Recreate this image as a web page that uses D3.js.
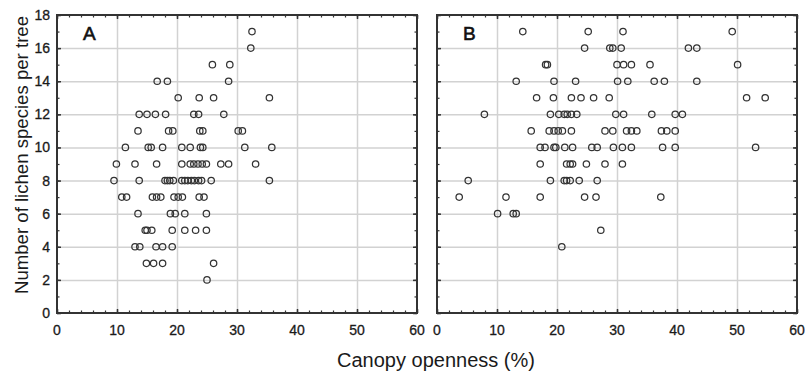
<!DOCTYPE html>
<html>
<head>
<meta charset="utf-8">
<script src="https://cdn.jsdelivr.net/npm/d3@7"></script>
<style>
  html, body { margin: 0; padding: 0; background: #fff; }
  svg { display: block; font-family: "Liberation Sans", Arial, sans-serif; }
</style>
</head>
<body>
<div id="lichen_chart"></div>
<script>
// panel A: canopy openness (%) and number of lichen species per tree
const opennessA = [
  32.5, 32.3,
  25.9, 28.8,
  16.7, 18.4, 28.6,
  20.2, 23.7, 26.1, 35.4,
  13.7, 15.0, 16.4, 18.1, 22.8, 23.6, 27.8,
  13.5, 18.6, 19.3, 23.8, 24.3, 30.2, 30.9,
  11.4, 15.2, 15.7, 17.6, 20.8, 22.2, 23.9, 24.3, 31.3, 35.8,
  9.9, 13.0, 16.6, 20.8, 22.2, 22.8, 23.5, 24.2, 24.9, 27.3, 28.6, 33.1,
  9.5, 13.7, 18.0, 18.4, 18.8, 19.4, 20.8, 21.3, 21.8, 22.4, 22.9, 23.6, 24.1, 25.7, 35.4,
  10.8, 11.6, 15.9, 16.6, 17.3, 19.5, 20.2, 20.9, 23.7, 24.5,
  13.5, 18.9, 19.7, 21.3, 24.9,
  14.7, 15.0, 15.8, 19.2, 21.3, 23.1, 24.9,
  13.0, 13.8, 16.5, 17.6, 19.2,
  14.9, 16.1, 17.6, 26.1,
  25.0
];
const speciesA = [
  17, 16,
  15, 15,
  14, 14, 14,
  13, 13, 13, 13,
  12, 12, 12, 12, 12, 12, 12,
  11, 11, 11, 11, 11, 11, 11,
  10, 10, 10, 10, 10, 10, 10, 10, 10, 10,
  9, 9, 9, 9, 9, 9, 9, 9, 9, 9, 9, 9,
  8, 8, 8, 8, 8, 8, 8, 8, 8, 8, 8, 8, 8, 8, 8,
  7, 7, 7, 7, 7, 7, 7, 7, 7, 7,
  6, 6, 6, 6, 6,
  5, 5, 5, 5, 5, 5, 5,
  4, 4, 4, 4, 4,
  3, 3, 3, 3,
  2
];

// panel B
const opennessB = [
  14.3, 25.2, 31.0, 49.2,
  24.6, 28.8, 29.3, 30.7, 41.9, 43.3,
  18.1, 18.4, 30.0, 31.1, 32.4, 35.5, 50.1,
  13.2, 19.5, 23.1, 30.1, 31.8, 36.2, 37.9, 43.3,
  16.6, 19.4, 22.4, 24.0, 26.1, 28.7, 51.6, 54.7,
  7.9, 18.9, 20.3, 21.2, 21.7, 22.4, 23.3, 29.8, 31.1, 35.8, 39.7, 40.9,
  15.7, 18.7, 19.5, 20.2, 20.9, 22.4, 28.0, 29.3, 31.6, 32.4, 33.3, 37.4, 38.3, 39.7,
  17.2, 18.0, 19.5, 19.8, 21.3, 22.6, 25.8, 26.7, 29.4, 30.9, 32.4, 37.6, 39.7, 53.1,
  17.2, 21.6, 22.2, 22.6, 24.9, 28.0, 30.9,
  5.2, 18.9, 21.2, 21.6, 22.2, 23.7, 26.7,
  3.7, 11.5, 17.2, 24.6, 26.5, 37.3,
  10.1, 12.7, 13.2,
  27.3,
  20.8
];
const speciesB = [
  17, 17, 17, 17,
  16, 16, 16, 16, 16, 16,
  15, 15, 15, 15, 15, 15, 15,
  14, 14, 14, 14, 14, 14, 14, 14,
  13, 13, 13, 13, 13, 13, 13, 13,
  12, 12, 12, 12, 12, 12, 12, 12, 12, 12, 12, 12,
  11, 11, 11, 11, 11, 11, 11, 11, 11, 11, 11, 11, 11, 11,
  10, 10, 10, 10, 10, 10, 10, 10, 10, 10, 10, 10, 10, 10,
  9, 9, 9, 9, 9, 9, 9,
  8, 8, 8, 8, 8, 8, 8,
  7, 7, 7, 7, 7, 7,
  6, 6, 6,
  5,
  4
];

const xTicks = [0, 10, 20, 30, 40, 50, 60];
const yTicks = [0, 2, 4, 6, 8, 10, 12, 14, 16, 18];
const panelLabels = ['A', 'B'];

const width = 806, height = 371;
const plotTop = 15, plotBottom = 313;
const panels = [
  { left: 57, right: 417, x: opennessA, y: speciesA, label: panelLabels[0] },
  { left: 437, right: 797, x: opennessB, y: speciesB, label: panelLabels[1] },
];

const svg = d3.select('#lichen_chart')
  .append('svg')
  .attr('width', width)
  .attr('height', height);

const yScale = d3.scaleLinear().domain([0, 18]).range([plotBottom, plotTop]);

panels.forEach((p, i) => {
  const xScale = d3.scaleLinear().domain([0, 60]).range([p.left, p.right]);
  const w = p.right - p.left, h = plotBottom - plotTop;
  const g = svg.append('g');

  //gridlines first so they sit under everything
  g.append('g')
    .attr('class', 'grid')
    .attr('transform', `translate(0,${plotBottom})`)
    .call(d3.axisBottom(xScale).tickValues(xTicks.slice(1, -1)).tickSize(-h).tickFormat(''))
    .call(s => s.select('.domain').remove());
  g.append('g')
    .attr('class', 'grid')
    .attr('transform', `translate(${p.left},0)`)
    .call(d3.axisLeft(yScale).tickValues(yTicks.slice(1, -1)).tickSize(-w).tickFormat(''))
    .call(s => s.select('.domain').remove());
  g.selectAll('.grid line')
    .attr('stroke', '#d2d2d2')
    .attr('stroke-width', 1.5);

  // inward ticks on all four sides, minor then major
  const minorX = d3.range(0, 61, 2), minorY = d3.range(0, 19, 1);
  const tickAxes = [
    [d3.axisBottom(xScale), `translate(0,${plotBottom})`, minorX, xTicks],
    [d3.axisTop(xScale), `translate(0,${plotTop})`, minorX, xTicks],
    [d3.axisLeft(yScale), `translate(${p.left},0)`, minorY, yTicks],
    [d3.axisRight(yScale), `translate(${p.right},0)`, minorY, yTicks],
  ];
  tickAxes.forEach(([ax, tr, minor, major]) => {
    g.append('g')
      .attr('transform', tr)
      .call(ax.tickValues(minor).tickSize(-2.5).tickFormat(''))
      .call(s => s.select('.domain').remove())
      .selectAll('line').attr('stroke', '#333').attr('stroke-width', 1.2);
    g.append('g')
      .attr('transform', tr)
      .call(ax.tickValues(major).tickSize(-4).tickFormat(''))
      .call(s => s.select('.domain').remove())
      .selectAll('line').attr('stroke', '#333').attr('stroke-width', 1.5);
  });

  // frame
  g.append('rect')
    .attr('x', p.left)
    .attr('y', plotTop)
    .attr('width', w)
    .attr('height', h)
    .attr('fill', 'none')
    .attr('stroke', '#333')
    .attr('stroke-width', 2);

  // x tick labels
  g.append('g')
    .selectAll('text')
    .data(xTicks)
    .join('text')
    .attr('x', d => xScale(d))
    .attr('y', 335)
    .attr('text-anchor', 'middle')
    .attr('font-size', 14)
    .attr('fill', '#1a1a1a')
    .attr('stroke', '#1a1a1a')
    .attr('stroke-width', 0.3)
    .text(d => d);

  if (i === 0) {
    g.append('g')
      .selectAll('text')
      .data(yTicks)
      .join('text')
      .attr('x', 50)
      .attr('y', d => yScale(d) + 5)
      .attr('text-anchor', 'end')
      .attr('font-size', 14)
      .attr('fill', '#1a1a1a')
      .attr('stroke', '#1a1a1a')
      .attr('stroke-width', 0.3)
      .text(d => d);
  }

  // points
  g.append('g')
    .selectAll('circle')
    .data(d3.range(p.x.length))
    .join('circle')
    .attr('cx', k => xScale(p.x[k]))
    .attr('cy', k => yScale(p.y[k]))
    .attr('r', 3.2)
    .attr('fill', 'none')
    .attr('stroke', '#333')
    .attr('stroke-width', 1.25);

  g.append('text')
    .attr('x', p.left + 26)
    .attr('y', 39.5)
    .attr('font-size', 19)
    .attr('fill', '#111')
    .attr('stroke', '#111')
    .attr('stroke-width', 0.6)
    .text(p.label);
});

// axis titles
svg.append('text')
  .attr('transform', 'translate(28,155) rotate(-90)')
  .attr('text-anchor', 'middle')
  .attr('font-size', 18.6)
  .attr('fill', '#1a1a1a')
  .text('Number of lichen species per tree');

svg.append('text')
  .attr('x', 436)
  .attr('y', 367)
  .attr('text-anchor', 'middle')
  .attr('font-size', 20)
  .attr('fill', '#1a1a1a')
  .text('Canopy openness (%)');
</script>
</body>
</html>
